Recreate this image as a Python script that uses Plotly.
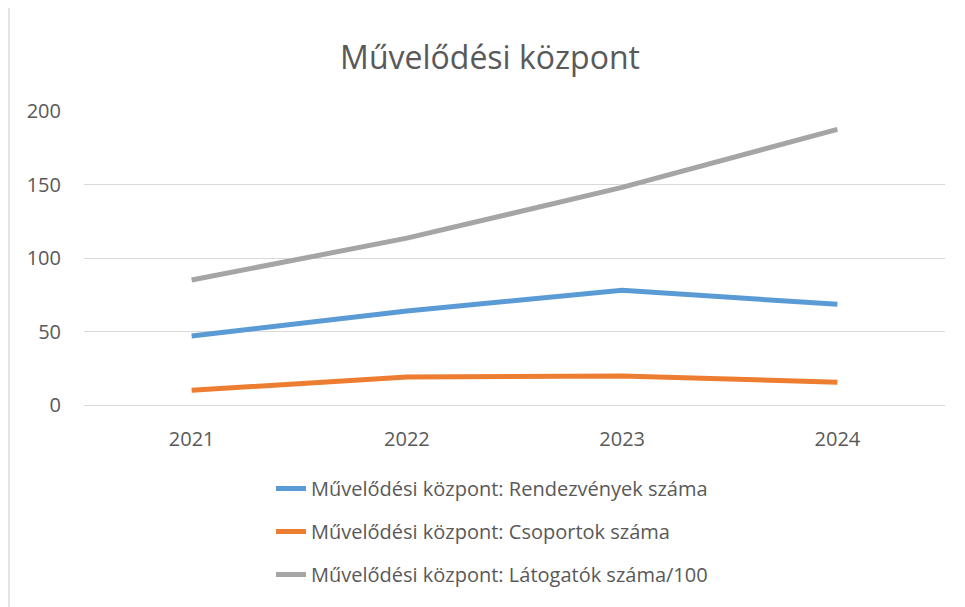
import plotly.graph_objects as go

years = ["2021", "2022", "2023", "2024"]
rendezvenyek = [47, 64, 78, 68.5]
csoportok = [10, 19, 19.7, 15.5]
latogatok_100 = [85, 113.5, 148, 187.5]

series_names = [
    "Művelődési központ: Rendezvények száma",
    "Művelődési központ: Csoportok száma",
    "Művelődési központ: Látogatók száma/100",
]
colors = ["#5B9BD5", "#ED7D31", "#A5A5A5"]

fig = go.Figure()
for i, (name, vals, col) in enumerate(zip(series_names, [rendezvenyek, csoportok, latogatok_100], colors)):
    fig.add_trace(go.Scatter(x=years, y=vals, name=name, mode="lines",
                             line=dict(color=col, width=5), legendgroup=str(i)))

W, H = 965, 607
ml, mr, mt, mb = 76, 28, 103, 210
pw, ph = W - ml - mr, H - mt - mb
fig.update_layout(
    width=W, height=H,
    margin=dict(l=ml, r=mr, t=mt, b=mb),
    paper_bgcolor="white", plot_bgcolor="white",
    font=dict(family="Open Sans, sans-serif", color="#595959", size=20),
    title=dict(text="Művelődési központ", x=0.4995, xanchor="center", y=1 - 50 / H, yanchor="middle",
               font=dict(size=32, color="#595959")),
    xaxis=dict(type="category", range=[-0.5, 3.5], showgrid=False, showline=True,
               linecolor="#D9D9D9", linewidth=1,
               ticks="outside", ticklen=16, tickcolor="rgba(0,0,0,0)",
               tickfont=dict(size=20), fixedrange=True),
    yaxis=dict(range=[0, 200], tickvals=[0, 50, 100, 150, 200], showgrid=True,
               gridcolor="#D9D9D9", gridwidth=1, zeroline=False, showline=False,
               ticks="outside", ticklen=18, tickcolor="rgba(0,0,0,0)", tickfont=dict(size=20)),
    legend=dict(x=(263 - ml) / pw, xanchor="left",
                y=(H - mb - 461) / ph, yanchor="top",
                orientation="v", traceorder="grouped", tracegroupgap=14,
                font=dict(size=20, color="#595959"), bgcolor="rgba(0,0,0,0)"),
    showlegend=True,
    shapes=[dict(type="line", xref="paper", yref="paper",
                 x0=(1 - ml) / pw, x1=(1 - ml) / pw,
                 y0=-mb / ph, y1=(H - mb) / ph,
                 line=dict(color="#D9D9D9", width=1.5))],
)

fig.write_html("out.html")
